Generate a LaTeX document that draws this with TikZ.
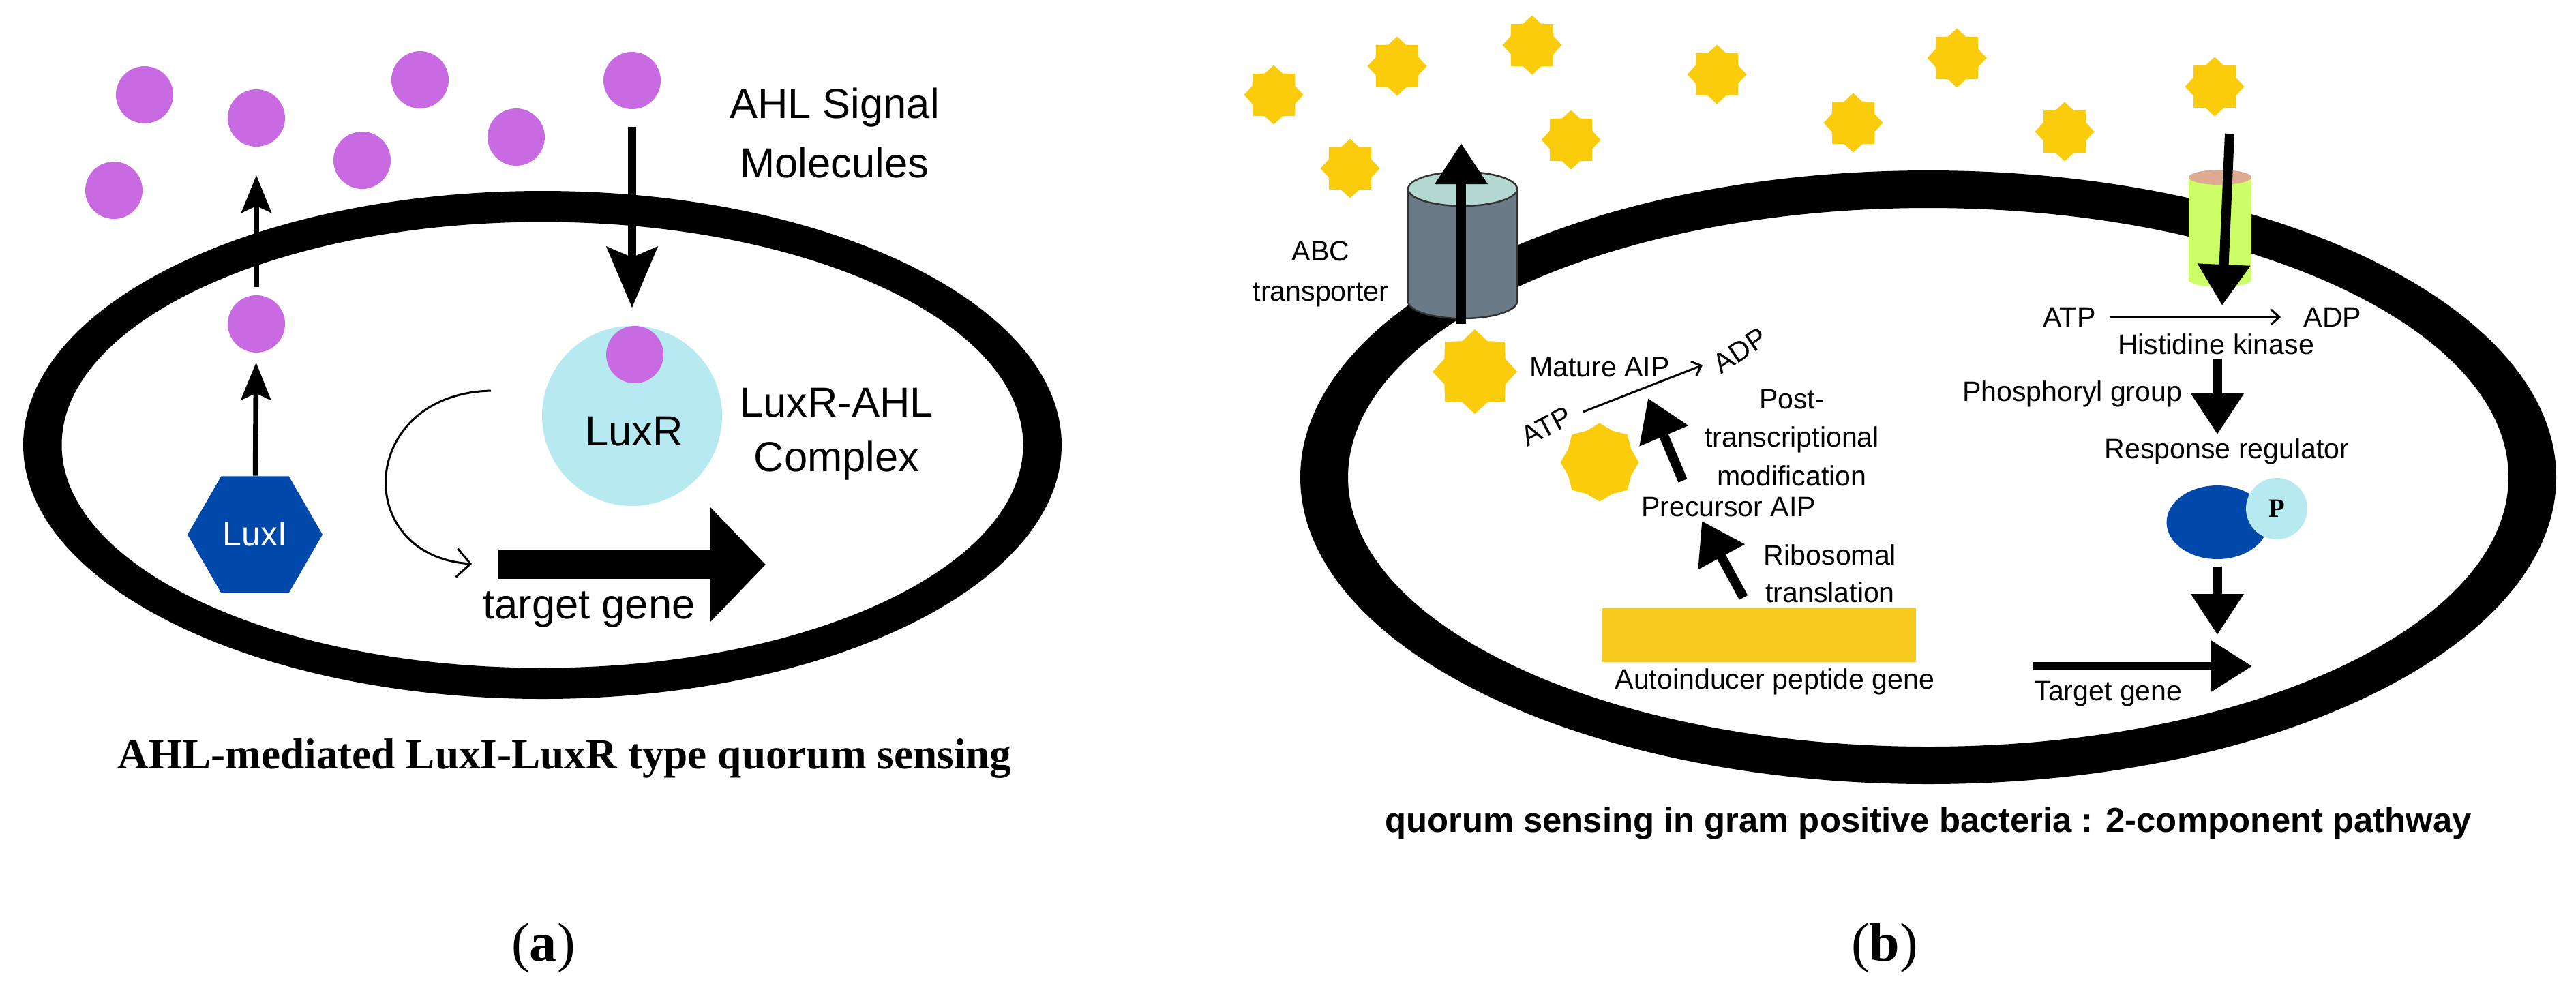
\documentclass[tikz,border=0pt]{standalone}
\usepackage{fontspec}
\setmainfont{Liberation Sans}
\newfontfamily\serifcap{Liberation Serif}
\usepackage{xcolor}
\definecolor{ahlpink}{RGB}{200,106,226}
\definecolor{luxrcyan}{RGB}{183,233,241}
\definecolor{luxblue}{RGB}{0,72,170}
\definecolor{aipgold}{RGB}{250,204,12}
\definecolor{genegold}{RGB}{246,202,30}
\definecolor{abcgray}{RGB}{106,122,134}
\definecolor{abctop}{RGB}{178,216,208}
\definecolor{hkgreen}{RGB}{204,255,102}
\definecolor{hktop}{RGB}{222,170,146}
\usepackage{tikz}
\usetikzlibrary{arrows.meta}
\usetikzlibrary{shapes.geometric}
\tikzset{
    membrane/.style={fill=black, even odd rule},
    ahl/.style={circle, fill=ahlpink, minimum size=8.4mm, inner sep=0pt},
    aip/.style={star, star points=8, star point ratio=1.28, fill=aipgold, minimum size=8.7mm, inner sep=0pt},
    txt-a/.style={font=\fontsize{17.5}{24.5}\selectfont, align=center},
    txt-b/.style={font=\fontsize{11.7}{16.1}\selectfont, align=center, inner sep=0.5mm},
    export/.style={-{Stealth[length=5.5mm, width=4.4mm, inset=1mm]}, line width=0.76mm},
    import/.style={-{Stealth[length=8.9mm, width=7.4mm, inset=1.5mm]}, line width=1.2mm},
    feedback/.style={-{Straight Barb[length=2mm, width=4.2mm]}, line width=0.3mm},
    gene-a/.style={-{Triangle[length=8.2mm, width=16.5mm]}, line width=4.2mm},
    thick-b/.style={-{Triangle[length=6mm, width=7.4mm]}, line width=1.4mm},
    thin-b/.style={-{Straight Barb[length=1.2mm, width=2.2mm]}, line width=0.3mm},
    gene-b/.style={-{Triangle[length=6mm, width=7.2mm]}, line width=1.25mm},
    cyl-edge/.style={draw=black!80, line width=0.25mm}
}
\begin{document}
\begin{tikzpicture}
    \useasboundingbox (0,0) rectangle (37.78,-14.48);

    \coordinate (cell-a) at (7.955,-6.525);
    \fill[membrane] (cell-a) ellipse [x radius=7.615, y radius=3.725] (cell-a) ellipse [x radius=7.05, y radius=3.27];

    \path (0,0)
        +(2.12,-1.39) node[ahl] (ahl-1) {}
        +(3.76,-1.73) node[ahl] (ahl-2) {}
        +(6.16,-1.17) node[ahl] (ahl-3) {}
        +(9.27,-1.18) node[ahl] (ahl-4) {}
        +(1.67,-2.79) node[ahl] (ahl-5) {}
        +(5.31,-2.35) node[ahl] (ahl-6) {}
        +(7.57,-2.01) node[ahl] (ahl-7) {}
        +(3.76,-4.75) node[ahl] (ahl-in) {};

    \node[circle, fill=luxrcyan, minimum size=26.4mm, inner sep=0pt] (luxr) at (9.27,-6.10) {};
    \node[ahl] (ahl-bound) at (9.31,-5.20) {};
    \node[txt-a] (luxr-text) at (9.30,-6.33) {LuxR};
    \node[regular polygon, regular polygon sides=6, minimum size=19.8mm, inner sep=0pt, fill=luxblue, text=white, font=\fontsize{14.2}{17}\selectfont] (luxi) at (3.74,-7.84) {LuxI};

    \coordinate (ahl-out) at (3.76,-2.57);
    \draw[export, shorten >=1.4mm] (luxi) -- (ahl-in);
    \draw[export, shorten <=1.1mm] (ahl-in) -- (ahl-out);
    \draw[import, shorten <=2.5mm, shorten >=2.6mm] (ahl-4) -- (luxr);

    \coordinate (feedback-start) at (7.20,-5.73);
    \coordinate (feedback-end) at (6.92,-8.27);
    \draw[feedback] (feedback-start) .. controls (5.25,-5.78) and (5.15,-8.15) .. (feedback-end);

    \coordinate (gene-a-start) at (7.30,-8.28);
    \coordinate (gene-a-end) at (11.23,-8.28);
    \draw[gene-a] (gene-a-start) -- (gene-a-end);
    \node[txt-a] (gene-a-label) at (8.64,-8.94) {target gene};

    \node[txt-a] (ahl-label) at (12.24,-1.95) {AHL Signal\\Molecules};
    \node[txt-a, font=\fontsize{17.5}{22.8}\selectfont] (complex-label) at (12.27,-6.37) {LuxR-AHL\\Complex};

    \node[font=\serifcap\bfseries\fontsize{18}{22}\selectfont] (caption-a) at (8.28,-11.13) {AHL-mediated LuxI-LuxR type quorum sensing};
    \node[font=\serifcap\fontsize{22.8}{27}\selectfont] (tag-a) at (7.97,-13.90) {(\textbf{a})};

    \coordinate (cell-b) at (28.28,-7.00);
    \fill[membrane] (cell-b) ellipse [x radius=9.21, y radius=4.50] (cell-b) ellipse [x radius=8.51, y radius=3.95];

    \path (0,0)
        +(18.68,-1.39) node[aip] (aip-1) {}
        +(20.49,-0.97) node[aip] (aip-2) {}
        +(22.47,-0.66) node[aip] (aip-3) {}
        +(25.18,-1.09) node[aip] (aip-4) {}
        +(28.70,-0.85) node[aip] (aip-5) {}
        +(32.48,-1.27) node[aip] (aip-6) {}
        +(19.80,-2.47) node[aip] (aip-7) {}
        +(23.04,-2.05) node[aip] (aip-8) {}
        +(27.18,-1.80) node[aip] (aip-9) {}
        +(30.28,-1.93) node[aip] (aip-10) {};

    \coordinate (abc-top) at (21.45,-2.77);
    \filldraw[cyl-edge, fill=abcgray] ([xshift=-8mm]abc-top) -- ++(0,-1.65) arc [start angle=180, end angle=360, x radius=8mm, y radius=2.5mm] -- ([xshift=8mm]abc-top) -- cycle;
    \filldraw[cyl-edge, fill=abctop] (abc-top) ellipse [x radius=8mm, y radius=2.5mm];
    \coordinate (abc-in) at (21.43,-4.75);
    \coordinate (abc-out) at (21.43,-2.10);
    \draw[thick-b] (abc-in) -- (abc-out);
    \node[txt-b, font=\fontsize{11.7}{16.8}\selectfont] (abc-label) at (19.37,-4.02) {ABC\\transporter};

    \coordinate (hk-top) at (32.56,-2.60);
    \fill[hkgreen] ([xshift=-4.6mm]hk-top) -- ++(0,-1.50) arc [start angle=180, end angle=360, x radius=4.6mm, y radius=1.1mm] -- ([xshift=4.6mm]hk-top) -- cycle;
    \fill[hktop] (hk-top) ellipse [x radius=4.6mm, y radius=1.1mm];
    \coordinate (hk-in) at (32.70,-1.96);
    \coordinate (hk-tip) at (32.59,-4.48);
    \draw[thick-b] (hk-in) -- (hk-tip);

    \node[txt-b] (atp-hk) at (30.35,-4.65) {ATP};
    \node[txt-b] (adp-hk) at (34.21,-4.65) {ADP};
    \draw[thin-b, shorten <=1.6mm, shorten >=2.8mm] (atp-hk) -- (adp-hk);
    \node[txt-b] (hk-label) at (32.50,-5.05) {Histidine kinase};
    \node[txt-b, anchor=east] (phos-label) at (32.06,-5.78) {Phosphoryl group};
    \node[txt-b] (rr-label) at (32.66,-6.62) {Response regulator};
    \node[ellipse, fill=luxblue, minimum width=14.9mm, minimum height=10.8mm, inner sep=0pt] (rr-blob) at (32.52,-7.66) {};
    \node[circle, fill=luxrcyan, minimum size=9mm, inner sep=0pt, font=\serifcap\bfseries\fontsize{11}{13}\selectfont] (rr-p) at (33.39,-7.46) {P};
    \draw[thick-b] (hk-label.south -| rr-blob) -- (rr-label.north -| rr-blob);

    \coordinate (gene-b-start) at (29.81,-9.77);
    \coordinate (gene-b-end) at (33.03,-9.77);
    \draw[gene-b] (gene-b-start) -- (gene-b-end);
    \draw[thick-b, shorten <=1mm, shorten >=4.6mm] (rr-blob.south) -- (rr-blob.south |- gene-b-end);
    \node[txt-b] (gene-b-label) at (30.92,-10.18) {Target gene};

    \node[aip, minimum size=12.4mm] (aip-mature) at (21.63,-5.45) {};
    \node[aip, star point ratio=1.15, minimum size=11.5mm] (aip-precursor) at (23.46,-6.78) {};
    \node[txt-b] (mature-label) at (23.46,-5.39) {Mature AIP};
    \node[txt-b, rotate=28] (atp-aip) at (22.68,-6.25) {ATP};
    \node[txt-b, rotate=34] (adp-aip) at (25.52,-5.14) {ADP};
    \draw[thin-b, shorten <=5.8mm, shorten >=5.9mm] (atp-aip.center) -- (adp-aip.center);

    \node[txt-b] (post-label) at (26.28,-6.42) {Post-\\transcriptional\\modification};
    \node[txt-b] (precursor-label) at (25.35,-7.44) {Precursor AIP};
    \node[txt-b, font=\fontsize{11.7}{15.7}\selectfont] (ribo-label) at (26.84,-8.415) {Ribosomal\\translation};
    \node[fill=genegold, minimum width=46.1mm, minimum height=7.9mm, inner sep=0pt] (aip-gene) at (25.795,-9.315) {};
    \node[txt-b] (aip-gene-label) at (26.03,-10.00) {Autoinducer peptide gene};

    \draw[thick-b] ([shift={(-2.25mm,1.5mm)}]aip-gene.north) -- ([xshift=-3.9mm]precursor-label.south);
    \draw[thick-b] ([shift={(-6.7mm,1.9mm)}]precursor-label.north) -- ([shift={(7.1mm,-2.5mm)}]mature-label.south);

    \node[font=\bfseries\fontsize{14.45}{17}\selectfont] (caption-b) at (28.28,-12.07) {quorum sensing in gram positive bacteria : 2-component pathway};
    \node[font=\serifcap\fontsize{22.8}{27}\selectfont] (tag-b) at (27.64,-13.90) {(\textbf{b})};
\end{tikzpicture}
\end{document}
